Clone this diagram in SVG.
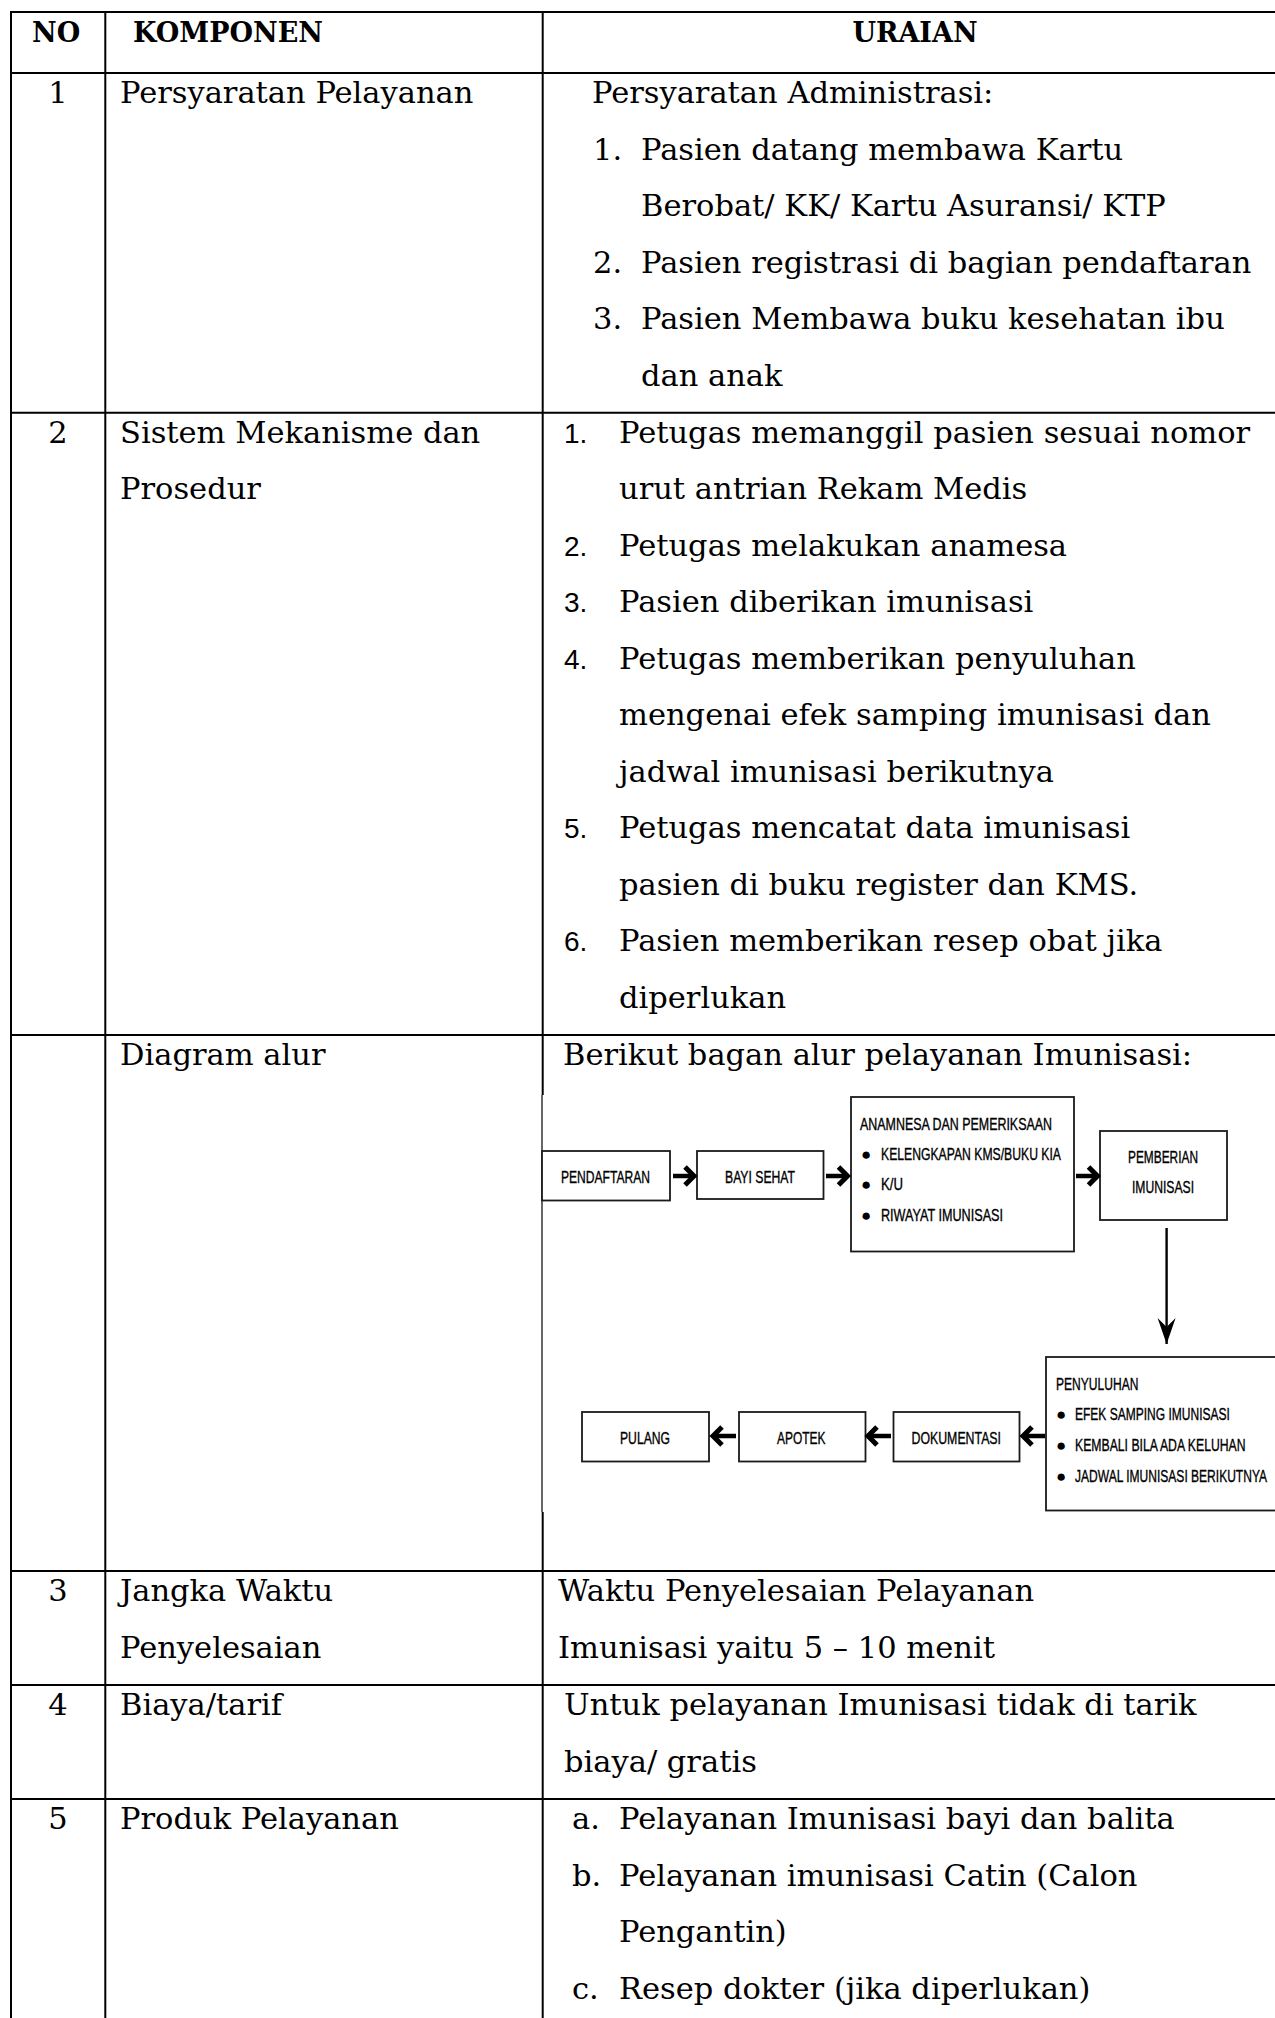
<svg xmlns="http://www.w3.org/2000/svg" width="1275" height="2018" viewBox="0 0 1275 2018">
<style>
.t{font-family:"DejaVu Serif","Liberation Serif",serif;font-size:30.5px;fill:#000}
.h{font-family:"DejaVu Serif","Liberation Serif",serif;font-size:27px;font-weight:bold;fill:#000}
.n{font-family:"Liberation Sans",Arial,sans-serif;font-size:28px;fill:#000}
.c{text-anchor:middle}
.grid{stroke:#000;stroke-width:2;fill:none}
.box{fill:#fff;stroke:#1a1a1a;stroke-width:1.8}
.f{font-family:"Liberation Sans",Arial,sans-serif;font-size:17px;fill:#000;stroke:#000;stroke-width:0.35}
.b{font-family:"Liberation Sans",Arial,sans-serif;font-size:17px;fill:#000}
.arr{stroke:#000;stroke-width:4.5;fill:none}
</style>
<defs>
<marker id="chev" markerUnits="userSpaceOnUse" markerWidth="16" markerHeight="24" refX="12" refY="12" orient="auto">
<path d="M3,3 L12,12 L3,21" fill="none" stroke="#000" stroke-width="5"/>
</marker>
<marker id="dn" markerUnits="userSpaceOnUse" markerWidth="28" markerHeight="20" refX="26" refY="9" orient="auto">
<path d="M0,0 L26,9 L0,18 L9,9 Z" fill="#000"/>
</marker>
</defs>
<rect width="1275" height="2018" fill="#fff"/>

<g id="table-grid">
<line class="grid" x1="11" y1="12" x2="1275" y2="12"/>
<line class="grid" x1="11" y1="73" x2="1275" y2="73"/>
<line class="grid" x1="11" y1="412.7" x2="1275" y2="412.7"/>
<line class="grid" x1="11" y1="1035" x2="1275" y2="1035"/>
<line class="grid" x1="11" y1="1571" x2="1275" y2="1571"/>
<line class="grid" x1="11" y1="1685" x2="1275" y2="1685"/>
<line class="grid" x1="11" y1="1799" x2="1275" y2="1799"/>
<line class="grid" x1="11" y1="11" x2="11" y2="2018"/>
<line class="grid" x1="105.3" y1="11" x2="105.3" y2="2018"/>
<line class="grid" x1="542.7" y1="11" x2="542.7" y2="1095"/>
<line class="grid" x1="542.7" y1="1512" x2="542.7" y2="2018"/>
<line x1="542" y1="1095" x2="542" y2="1512" stroke="#000" stroke-width="1.2"/>
</g>

<g id="header">
<text class="h" x="32" y="42">NO</text>
<text class="h" x="133" y="42">KOMPONEN</text>
<text class="h c" x="915" y="42">URAIAN</text>
</g>

<g id="row1">
<text class="t c" x="58" y="103">1</text>
<text class="t" x="120" y="103">Persyaratan Pelayanan</text>
<text class="t" x="592" y="103">Persyaratan Administrasi:</text>
<text class="t" x="593" y="159.5">1.</text>
<text class="t" x="641" y="159.5">Pasien datang membawa Kartu</text>
<text class="t" x="641" y="216">Berobat/ KK/ Kartu Asuransi/ KTP</text>
<text class="t" x="593" y="272.5">2.</text>
<text class="t" x="641" y="272.5">Pasien registrasi di bagian pendaftaran</text>
<text class="t" x="593" y="329">3.</text>
<text class="t" x="641" y="329">Pasien Membawa buku kesehatan ibu</text>
<text class="t" x="641" y="385.5">dan anak</text>
</g>

<g id="row2">
<text class="t c" x="58" y="442.7">2</text>
<text class="t" x="120" y="442.7">Sistem Mekanisme dan</text>
<text class="t" x="120" y="499.2">Prosedur</text>
<text class="n" x="564" y="442.7">1.</text>
<text class="t" x="619" y="442.7">Petugas memanggil pasien sesuai nomor</text>
<text class="t" x="619" y="499.2">urut antrian Rekam Medis</text>
<text class="n" x="564" y="555.7">2.</text>
<text class="t" x="619" y="555.7">Petugas melakukan anamesa</text>
<text class="n" x="564" y="612.2">3.</text>
<text class="t" x="619" y="612.2">Pasien diberikan imunisasi</text>
<text class="n" x="564" y="668.7">4.</text>
<text class="t" x="619" y="668.7">Petugas memberikan penyuluhan</text>
<text class="t" x="619" y="725.2">mengenai efek samping imunisasi dan</text>
<text class="t" x="619" y="781.7">jadwal imunisasi berikutnya</text>
<text class="n" x="564" y="838.2">5.</text>
<text class="t" x="619" y="838.2">Petugas mencatat data imunisasi</text>
<text class="t" x="619" y="894.7">pasien di buku register dan KMS.</text>
<text class="n" x="564" y="951.2">6.</text>
<text class="t" x="619" y="951.2">Pasien memberikan resep obat jika</text>
<text class="t" x="619" y="1007.7">diperlukan</text>
</g>

<g id="row-diagram">
<text class="t" x="120" y="1065">Diagram alur</text>
<text class="t" x="563" y="1065">Berikut bagan alur pelayanan Imunisasi:</text>
</g>

<g id="node-pendaftaran">
<rect class="box" x="542" y="1151" width="128" height="49.5"/>
<text class="f" x="561" y="1183" textLength="89" lengthAdjust="spacingAndGlyphs">PENDAFTARAN</text>
</g>
<g id="node-bayi-sehat">
<rect class="box" x="697" y="1151" width="126.5" height="48"/>
<text class="f" x="725" y="1183" textLength="70" lengthAdjust="spacingAndGlyphs">BAYI SEHAT</text>
</g>
<g id="node-anamnesa">
<rect class="box" x="851" y="1097" width="223" height="154.5"/>
<text class="f" x="860" y="1130" textLength="192" lengthAdjust="spacingAndGlyphs">ANAMNESA DAN PEMERIKSAAN</text>
<text class="b" x="861" y="1160">●</text>
<text class="f" x="881" y="1160" textLength="180" lengthAdjust="spacingAndGlyphs">KELENGKAPAN KMS/BUKU KIA</text>
<text class="b" x="861" y="1190">●</text>
<text class="f" x="881" y="1190" textLength="22" lengthAdjust="spacingAndGlyphs">K/U</text>
<text class="b" x="861" y="1221">●</text>
<text class="f" x="881" y="1221" textLength="122" lengthAdjust="spacingAndGlyphs">RIWAYAT IMUNISASI</text>
</g>
<g id="node-pemberian">
<rect class="box" x="1100" y="1131" width="127" height="89"/>
<text class="f" x="1128" y="1163" textLength="70" lengthAdjust="spacingAndGlyphs">PEMBERIAN</text>
<text class="f" x="1132" y="1193" textLength="62" lengthAdjust="spacingAndGlyphs">IMUNISASI</text>
</g>
<g id="node-penyuluhan">
<rect class="box" x="1046" y="1357" width="240" height="153.5"/>
<text class="f" transform="translate(1056,1390) scale(0.71,1)">PENYULUHAN</text>
<text class="b" x="1056" y="1420">●</text>
<text class="f" transform="translate(1075,1420) scale(0.707,1)">EFEK SAMPING IMUNISASI</text>
<text class="b" x="1056" y="1451">●</text>
<text class="f" transform="translate(1075,1451) scale(0.72,1)">KEMBALI BILA ADA KELUHAN</text>
<text class="b" x="1056" y="1482">●</text>
<text class="f" transform="translate(1075,1482) scale(0.708,1)">JADWAL IMUNISASI BERIKUTNYA</text>
</g>
<g id="node-dokumentasi">
<rect class="box" x="893.5" y="1412" width="126" height="49.5"/>
<text class="f" x="911.5" y="1444" textLength="89.5" lengthAdjust="spacingAndGlyphs">DOKUMENTASI</text>
</g>
<g id="node-apotek">
<rect class="box" x="739" y="1412" width="126.5" height="49.5"/>
<text class="f" x="777" y="1444" textLength="48.5" lengthAdjust="spacingAndGlyphs">APOTEK</text>
</g>
<g id="node-pulang">
<rect class="box" x="582" y="1412" width="127" height="49.5"/>
<text class="f" x="620" y="1444" textLength="50" lengthAdjust="spacingAndGlyphs">PULANG</text>
</g>

<g id="connectors">
<line class="arr" x1="673" y1="1176" x2="694" y2="1176" marker-end="url(#chev)"/>
<line class="arr" x1="826" y1="1176" x2="847.5" y2="1176" marker-end="url(#chev)"/>
<line class="arr" x1="1076" y1="1176" x2="1097.5" y2="1176" marker-end="url(#chev)"/>
<line x1="1166.6" y1="1228" x2="1166.6" y2="1344" stroke="#000" stroke-width="2.4" marker-end="url(#dn)"/>
<line class="arr" x1="1045" y1="1436" x2="1023" y2="1436" marker-end="url(#chev)"/>
<line class="arr" x1="891" y1="1436" x2="868" y2="1436" marker-end="url(#chev)"/>
<line class="arr" x1="736" y1="1436" x2="713" y2="1436" marker-end="url(#chev)"/>
</g>

<g id="row3">
<text class="t c" x="58" y="1601">3</text>
<text class="t" x="120" y="1601">Jangka Waktu</text>
<text class="t" x="120" y="1657.5">Penyelesaian</text>
<text class="t" x="558" y="1601">Waktu Penyelesaian Pelayanan</text>
<text class="t" x="558" y="1657.5">Imunisasi yaitu 5 – 10 menit</text>
</g>

<g id="row4">
<text class="t c" x="58" y="1715">4</text>
<text class="t" x="120" y="1715">Biaya/tarif</text>
<text class="t" x="564" y="1715">Untuk pelayanan Imunisasi tidak di tarik</text>
<text class="t" x="564" y="1771.5">biaya/ gratis</text>
</g>

<g id="row5">
<text class="t c" x="58" y="1829">5</text>
<text class="t" x="120" y="1829">Produk Pelayanan</text>
<text class="t" x="572" y="1829">a.</text>
<text class="t" x="619" y="1829">Pelayanan Imunisasi bayi dan balita</text>
<text class="t" x="572" y="1885.5">b.</text>
<text class="t" x="619" y="1885.5">Pelayanan imunisasi Catin (Calon</text>
<text class="t" x="619" y="1942">Pengantin)</text>
<text class="t" x="572" y="1998.5">c.</text>
<text class="t" x="619" y="1998.5">Resep dokter (jika diperlukan)</text>
</g>
</svg>
